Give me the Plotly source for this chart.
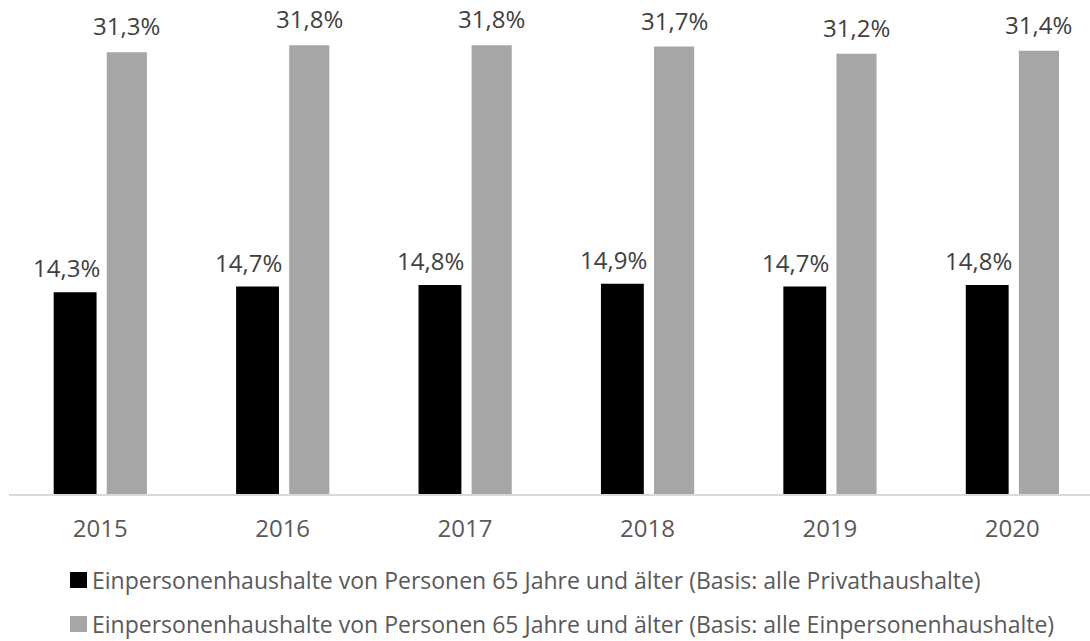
import plotly.graph_objects as go

years = ["2015", "2016", "2017", "2018", "2019", "2020"]
privat = [14.3, 14.7, 14.8, 14.9, 14.7, 14.8]
einpers = [31.3, 31.8, 31.8, 31.7, 31.2, 31.4]
privat_labels = ["14,3%", "14,7%", "14,8%", "14,9%", "14,7%", "14,8%"]
einpers_labels = ["31,3%", "31,8%", "31,8%", "31,7%", "31,2%", "31,4%"]
legend_names = [
    "Einpersonenhaushalte von Personen 65 Jahre und älter (Basis: alle Privathaushalte)",
    "Einpersonenhaushalte von Personen 65 Jahre und älter (Basis: alle Einpersonenhaushalte)",
]

FONT = "Open Sans"
W, H = 1090, 641
ML, MT, MB, MR = 9, 0, 147, 0
PW, PH = W - ML - MR, H - MT - MB

colors = ["#000000", "#A6A6A6"]
offsets = [-0.255, 0.036]
widths = [0.235, 0.22]

x_idx = list(range(len(years)))
fig = go.Figure()
for vals, name, col, off, wd in zip([privat, einpers], legend_names, colors, offsets, widths):
    fig.add_trace(go.Bar(x=x_idx, y=vals, name=name, marker=dict(color=col, line=dict(width=0)),
                         offset=off, width=wd, showlegend=False, hoverinfo="skip"))

annots = []
for labels, vals, off, wd, xs, ys in [(privat_labels, privat, offsets[0], widths[0], -9, 6),
                                      (einpers_labels, einpers, offsets[1], widths[1], 0, 8)]:
    for i, (lab, v) in enumerate(zip(labels, vals)):
        annots.append(dict(x=i + off + wd / 2, y=v, xref="x", yref="y", text=lab, showarrow=False,
                           yanchor="bottom", xanchor="center", xshift=xs, yshift=ys,
                           font=dict(family=FONT, size=24, color="#404040")))

# custom legend
shapes = []
row_py = [580, 624]
for name, col, py in zip(legend_names, colors, row_py):
    x0 = (70 - ML) / PW
    x1 = (87 - ML) / PW
    y0 = 1 - (py - 8 - MT) / PH
    y1 = 1 - (py + 8 - MT) / PH
    shapes.append(dict(type="rect", xref="paper", yref="paper", x0=x0, x1=x1, y0=y0, y1=y1,
                       fillcolor=col, line=dict(width=0)))
    annots.append(dict(x=(90 - ML) / PW, y=1 - (py - MT) / PH, xref="paper", yref="paper",
                       text=name, showarrow=False, xanchor="left", yanchor="middle",
                       font=dict(family=FONT, size=23, color="#595959")))

fig.update_layout(
    width=W, height=H,
    margin=dict(l=ML, r=MR, t=MT, b=MB, pad=0),
    paper_bgcolor="white", plot_bgcolor="white",
    barmode="group",
    hovermode=False,
    xaxis=dict(tickmode="array", tickvals=x_idx, ticktext=years, range=[-0.5, 5.426],
               showgrid=False, zeroline=False, showline=True, linecolor="#D9D9D9", linewidth=2,
               ticks="", ticklabelstandoff=12,
               tickfont=dict(family=FONT, size=24, color="#595959")),
    yaxis=dict(range=[0, 35], visible=False, showgrid=False, zeroline=False),
    annotations=annots, shapes=shapes,
)

fig.write_html("out.html", config={"displayModeBar": False, "staticPlot": True},
               post_script="document.body.style.margin='0';document.body.style.overflow='hidden';")
